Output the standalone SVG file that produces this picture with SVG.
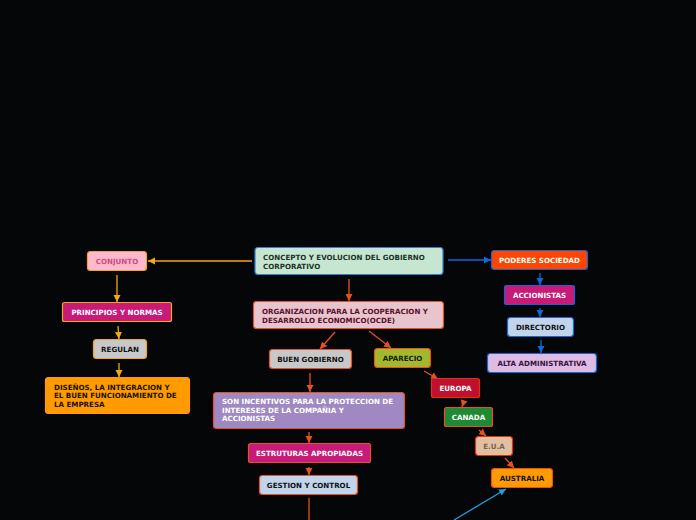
<svg xmlns="http://www.w3.org/2000/svg" width="696" height="520" viewBox="0 0 696 520">
<defs>
<style>
text{font-family:"DejaVu Sans","Liberation Sans",sans-serif;font-weight:bold;font-size:7.1px}
.c{text-anchor:middle}
.n rect{stroke-width:1.2}
.lo{stroke:#f0a818;stroke-width:1.3;fill:none}
.lr{stroke:#e8501e;stroke-width:1.3;fill:none}
.lb{stroke:#1466d8;stroke-width:1.3;fill:none}
.lc{stroke:#1aa0e0;stroke-width:1.3;fill:none}
</style>
<marker id="ao" markerWidth="8" markerHeight="8" refX="7" refY="4" orient="auto" markerUnits="userSpaceOnUse"><path d="M0,0.5 L7,4 L0,7.5 Z" fill="#f0a818"/></marker>
<marker id="ar" markerWidth="8" markerHeight="8" refX="7" refY="4" orient="auto" markerUnits="userSpaceOnUse"><path d="M0,0.5 L7,4 L0,7.5 Z" fill="#e8501e"/></marker>
<marker id="ab" markerWidth="8" markerHeight="8" refX="7" refY="4" orient="auto" markerUnits="userSpaceOnUse"><path d="M0,0.5 L7,4 L0,7.5 Z" fill="#1466d8"/></marker>
<marker id="ac" markerWidth="8" markerHeight="8" refX="7" refY="4" orient="auto" markerUnits="userSpaceOnUse"><path d="M0,0.5 L7,4 L0,7.5 Z" fill="#1aa0e0"/></marker>
</defs>
<rect width="696" height="520" fill="#050608"/>
<g id="connectors">
<path class="lo" d="M252,261 H148" marker-end="url(#ao)"/>
<path class="lo" d="M117,275 V302" marker-end="url(#ao)"/>
<path class="lo" d="M118,326 L119,339" marker-end="url(#ao)"/>
<path class="lo" d="M119,363 V377" marker-end="url(#ao)"/>
<path class="lb" d="M448,260 H491" marker-end="url(#ab)"/>
<path class="lb" d="M540,273 V285" marker-end="url(#ab)"/>
<path class="lb" d="M540,308 V317" marker-end="url(#ab)"/>
<path class="lb" d="M541,340 V353" marker-end="url(#ab)"/>
<path class="lr" d="M349,279 V301" marker-end="url(#ar)"/>
<path class="lr" d="M335,332 L320,349" marker-end="url(#ar)"/>
<path class="lr" d="M369,331 L391,348" marker-end="url(#ar)"/>
<path class="lr" d="M310,373 V392" marker-end="url(#ar)"/>
<path class="lr" d="M309,432 V443" marker-end="url(#ar)"/>
<path class="lr" d="M309,467 V475" marker-end="url(#ar)"/>
<path class="lr" d="M309,498 V520"/>
<path class="lr" d="M424,371 L438,379" marker-end="url(#ar)"/>
<path class="lr" d="M464,401 L462,407" marker-end="url(#ar)"/>
<path class="lr" d="M479,430 L486,436" marker-end="url(#ar)"/>
<path class="lr" d="M505,458 L514,468" marker-end="url(#ar)"/>
<path class="lc" d="M454,520 L506,489" marker-end="url(#ac)"/>
</g>
<g id="concepto" class="n"><rect x="255" y="247.5" width="188" height="27" rx="3" fill="#c6e6d2" stroke="#2e7fd0"/><text x="263" y="260" fill="#1c3326">CONCEPTO Y EVOLUCION DEL GOBIERNO</text><text x="263" y="268.5" fill="#1c3326">CORPORATIVO</text></g>
<g id="conjunto" class="n"><rect x="87.5" y="251.5" width="59" height="19" rx="3" fill="#ffb8cc" stroke="#f0a818"/><text class="c" x="117" y="263.5" fill="#d04a7c">CONJUNTO</text></g>
<g id="principios" class="n"><rect x="62.5" y="302.5" width="109" height="19" rx="2" fill="#c81a78" stroke="#f0a818"/><text class="c" x="117" y="314.5" fill="#ffffff">PRINCIPIOS Y NORMAS</text></g>
<g id="regulan" class="n"><rect x="93.5" y="339.5" width="53" height="19" rx="3" fill="#c8c8c8" stroke="#f0a818"/><text class="c" x="120" y="351.5" fill="#111111">REGULAN</text></g>
<g id="disenos" class="n"><rect x="45.5" y="377.5" width="144" height="36" rx="3" fill="#ff9a00" stroke="#ff9a00"/><text x="54" y="389.5" fill="#1a1208">DISEÑOS, LA INTEGRACION Y</text><text x="54" y="398" fill="#1a1208">EL BUEN FUNCIONAMIENTO DE</text><text x="54" y="406.5" fill="#1a1208">LA EMPRESA</text></g>
<g id="organizacion" class="n"><rect x="253.5" y="301.5" width="190" height="27" rx="3" fill="#e8c4cc" stroke="#e8501e"/><text x="262" y="314" fill="#5a1030">ORGANIZACION PARA LA COOPERACION Y</text><text x="262" y="322.5" fill="#5a1030">DESARROLLO ECONOMICO(OCDE)</text></g>
<g id="buen-gobierno" class="n"><rect x="269.5" y="349.5" width="82" height="19" rx="3" fill="#c8c8c8" stroke="#e8501e"/><text class="c" x="310.5" y="361.5" fill="#111111">BUEN GOBIERNO</text></g>
<g id="aparecio" class="n"><rect x="374.5" y="348.5" width="56" height="19" rx="3" fill="#a2b82e" stroke="#e8501e"/><text class="c" x="402.5" y="360.5" fill="#1a1a08">APARECIO</text></g>
<g id="poderes" class="n"><rect x="491.5" y="250.5" width="96" height="19" rx="3" fill="#ff4500" stroke="#1466d8"/><text class="c" x="539.5" y="262.5" fill="#ffffff">PODERES SOCIEDAD</text></g>
<g id="accionistas" class="n"><rect x="504.5" y="285.5" width="70" height="19" rx="2" fill="#c81a78" stroke="#1466d8"/><text class="c" x="539.5" y="297.5" fill="#ffffff">ACCIONISTAS</text></g>
<g id="directorio" class="n"><rect x="507.5" y="317.5" width="66" height="19" rx="3" fill="#c0d4ec" stroke="#1466d8"/><text class="c" x="540.5" y="329.5" fill="#111111">DIRECTORIO</text></g>
<g id="alta" class="n"><rect x="487.5" y="353.5" width="109" height="19" rx="3" fill="#dcbce4" stroke="#1466d8"/><text class="c" x="542" y="365.5" fill="#3a1040">ALTA ADMINISTRATIVA</text></g>
<g id="incentivos" class="n"><rect x="213.5" y="392.5" width="191" height="36" rx="3" fill="#a088c2" stroke="#e8501e"/><text x="222" y="404" fill="#ffffff">SON INCENTIVOS PARA LA PROTECCION DE</text><text x="222" y="412.5" fill="#ffffff">INTERESES DE LA COMPAÑIA Y</text><text x="222" y="421" fill="#ffffff">ACCIONISTAS</text></g>
<g id="estructuras" class="n"><rect x="248.5" y="443.5" width="122" height="19" rx="2" fill="#c81a78" stroke="#e8501e"/><text class="c" x="309.5" y="455.5" fill="#ffffff">ESTRUTURAS APROPIADAS</text></g>
<g id="gestion" class="n"><rect x="259.5" y="475.5" width="98" height="19" rx="3" fill="#c0d4ec" stroke="#e8501e"/><text class="c" x="308.5" y="487.5" fill="#111111">GESTION Y CONTROL</text></g>
<g id="europa" class="n"><rect x="431.5" y="378.5" width="48" height="19" rx="2" fill="#c0102e" stroke="#e03018"/><text class="c" x="455.5" y="390.5" fill="#ffffff">EUROPA</text></g>
<g id="canada" class="n"><rect x="444.5" y="407.5" width="48" height="19" rx="2" fill="#1f8a34" stroke="#e8501e"/><text class="c" x="468.5" y="419.5" fill="#ffffff">CANADA</text></g>
<g id="eua" class="n"><rect x="475.5" y="436.5" width="37" height="19" rx="3" fill="#e0c0a0" stroke="#e03018"/><text class="c" x="494" y="448.5" fill="#7a6050">E.U.A</text></g>
<g id="australia" class="n"><rect x="491.5" y="468.5" width="61" height="19" rx="3" fill="#ff9a00" stroke="#e8501e"/><text class="c" x="522" y="480.5" fill="#111111">AUSTRALIA</text></g>
</svg>
